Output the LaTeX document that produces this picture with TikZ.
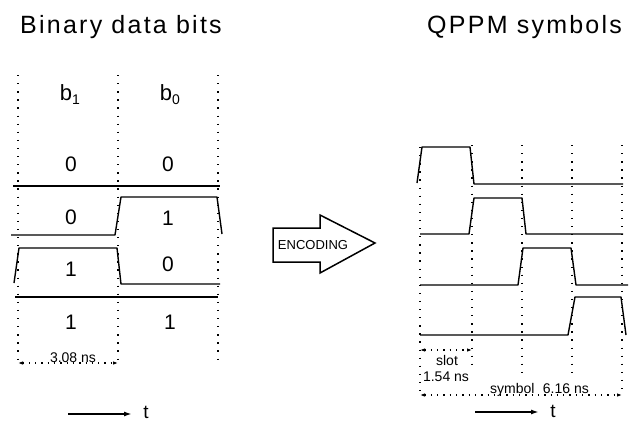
\documentclass[tikz,border=0pt]{standalone}
\usepackage{fontspec}
\setmainfont{Liberation Sans}
\newfontfamily\titlefont[LetterSpace=9]{Liberation Sans}
\usetikzlibrary{arrows.meta}
\begin{document}
\begin{tikzpicture}[x=1pt,y=-1pt,
  wave/.style={line width=1.4pt, line join=round},
  guide/.style={line width=1.3pt, dash pattern=on 1.3pt off 6.8pt},
  sep/.style={line width=1.3pt},
  lbl/.style={font=\fontsize{21}{21}\selectfont, inner sep=0pt},
  ttl/.style={font=\titlefont\fontsize{25}{25}\selectfont, inner sep=0pt, anchor=base west},
  dim/.style={line width=1.1pt, dash pattern=on 1.3pt off 5pt, {Latex[length=5pt,width=3.5pt]}-{Latex[length=5pt,width=3.5pt]}},
  small/.style={font=\fontsize{14}{14}\selectfont, inner sep=0pt, anchor=base},
  taxis/.style={line width=1.8pt, -{Latex[length=8pt,width=5pt]}},
  tlbl/.style={font=\fontsize{19}{19}\selectfont, inner sep=0pt},
]
\useasboundingbox (0,0) rectangle (630,423);
% titles
\node[ttl] (t1) at (20,33) {Binary data bits};
\node[ttl] (t2) at (427,33) {QPPM symbols};
% left guides
\foreach \x in {18,118,218} \draw[guide] (\x,75) -- (\x,365);
\draw[sep] (13,186) -- (220,186);
\draw[sep] (15,297) -- (218,297);
\draw[wave] (11,235) -- (115,235) -- (121,197) -- (217,197) -- (222,234);
\draw[wave] (14,283) -- (19,248) -- (117,248) -- (121,284) -- (220,284);
% labels
\node[lbl, font=\fontsize{22}{22}\selectfont] (b1) at (70,95) {b\raisebox{-4pt}{\fontsize{14}{14}\selectfont 1}};
\node[lbl, font=\fontsize{22}{22}\selectfont] (b0) at (170,95) {b\raisebox{-4pt}{\fontsize{14}{14}\selectfont 0}};
\node[lbl] (r1a) at (71,164) {0};
\node[lbl] (r1b) at (168,164) {0};
\node[lbl] (r2a) at (71,217) {0};
\node[lbl] (r2b) at (168,218) {1};
\node[lbl] (r3a) at (71,269) {1};
\node[lbl] (r3b) at (168,264) {0};
\node[lbl] (r4a) at (71,322) {1};
\node[lbl] (r4b) at (170,322) {1};
% dimension left
\coordinate (dl1) at (18,363);
\coordinate (dl2) at (118,363);
\draw[dim] (dl1) -- (dl2);
\node[small] (d308) at (73,362) {3.08 ns};
% t axis left
\coordinate (ta1) at (68,414);
\coordinate (ta2) at (132,414);
\draw[taxis] (ta1) -- (ta2);
\node[tlbl] (tl) at (146,412) {t};
% encoding arrow
\draw[line width=1.5pt, line join=miter] (273,228) -- (320,228) -- (320,215) -- (375,243) -- (320,273) -- (320,262) -- (273,262) -- cycle;
\node[font=\fontsize{13}{13}\selectfont, inner sep=0pt] (enc) at (313,245) {ENCODING};
% right guides
\draw[guide] (420,147) -- (420,397);
\draw[guide] (472,145) -- (472,368);
\draw[guide] (522,145) -- (522,375);
\draw[guide] (572,145) -- (572,375);
\draw[guide] (622,145) -- (622,395);
% right waves
\draw[wave] (417,183) -- (422,147) -- (470,147) -- (474,184) -- (623,184);
\draw[wave] (420,234) -- (469,234) -- (474,198) -- (522,198) -- (526,234) -- (623,234);
\draw[wave] (420,285) -- (518,285) -- (523,248) -- (571,248) -- (576,285) -- (628,285);
\draw[wave] (420,335) -- (568,335) -- (575,297) -- (621,297) -- (626,335);
% right dimensions
\coordinate (s1) at (420,350);
\coordinate (s2) at (472,350);
\draw[dim] (s1) -- (s2);
\node[small] (slot) at (447,365) {slot};
\node[small] (slotv) at (446,381) {1.54 ns};
\coordinate (y1) at (420,395);
\coordinate (y2) at (622,395);
\draw[dim] (y1) -- (y2);
\node[small, anchor=base west] (sym) at (490,393) {symbol\hspace{0.6em}6.16 ns};
% t axis right
\coordinate (tb1) at (475,412);
\coordinate (tb2) at (539,412);
\draw[taxis] (tb1) -- (tb2);
\node[tlbl] (tr) at (553,411) {t};
\end{tikzpicture}
\end{document}
